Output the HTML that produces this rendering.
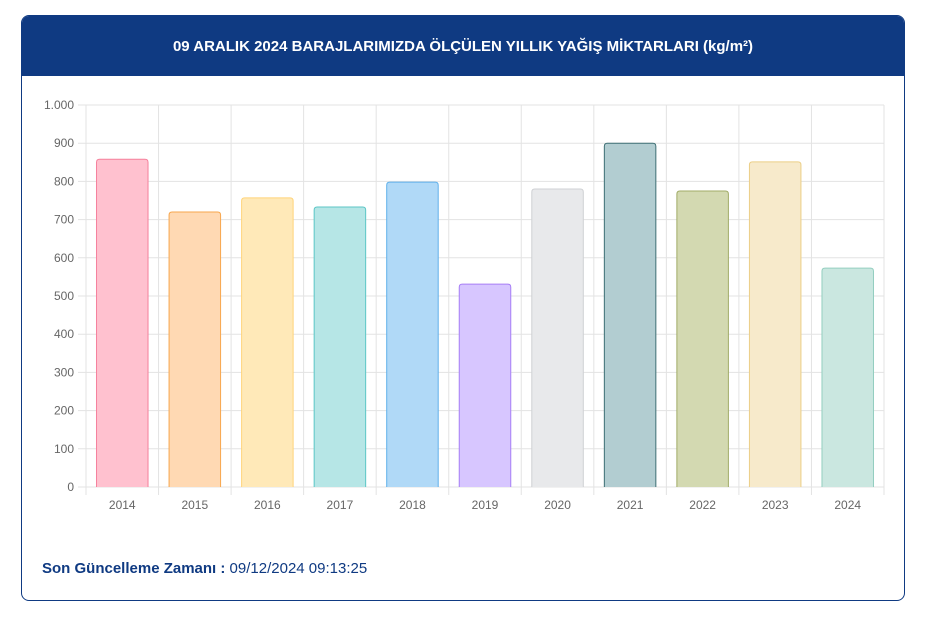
<!DOCTYPE html>
<html><head><meta charset="utf-8"><style>
body{margin:0;background:#fff;width:934px;height:621px;position:relative;font-family:"Liberation Sans",sans-serif;overflow:hidden}
.card{position:absolute;left:21px;top:15px;width:882px;height:584px;border:1px solid #0f3a82;border-radius:8px;overflow:hidden;background:#fff}
.hdr{height:60px;background:#0f3a82;color:#fff;font-weight:bold;font-size:15px;text-align:center;line-height:62px}
.foot{position:absolute;left:20px;top:544px;font-size:15px;color:#0f3a82}
svg{position:absolute;left:0;top:0}
</style></head><body>
<div class="card">
<div class="hdr">09 ARALIK 2024 BARAJLARIMIZDA ÖLÇÜLEN YILLIK YAĞIŞ MİKTARLARI (kg/m²)</div>
<div class="foot"><b>Son Güncelleme Zamanı :</b> 09/12/2024 09:13:25</div>
</div>
<svg id="c" width="934" height="621"></svg>
<script>
const categories=["2014","2015","2016","2017","2018","2019","2020","2021","2022","2023","2024"];
const values=[858,720,757,733,798,531,780,900,775,851,573];
const yTicks=[0,100,200,300,400,500,600,700,800,900,1000];
const yTickLabels=["0","100","200","300","400","500","600","700","800","900","1.000"];
const fills=["#ffc1cf","#ffd9b3","#ffe9b8","#b6e6e6","#b0d9f7","#d7c6ff","#e8e9eb","#b2cdd1","#d3d9b1","#f7eacb","#cae7e0"];
const strokes=["#f5809c","#f7a64d","#ffd47a","#5cc6c6","#5fb0ea","#a77ef5","#cfd1d4","#3e6f74","#a0ab66","#eccf87","#93cebf"];
const X0=86,X1=884,Y0=487,Y1=105;
const y=v=>Y0-(v/1000)*(Y0-Y1);
const bw=(X1-X0)/categories.length;
const x=i=>X0+i*bw;
const svg=document.getElementById('c');
const NS="http://www.w3.org/2000/svg";
function mk(t,a){const e=document.createElementNS(NS,t);for(const k in a)e.setAttribute(k,a[k]);svg.appendChild(e);return e;}
yTicks.forEach((t,i)=>{
 const l=mk('line',{x1:X0-8,x2:X1,y1:y(t),y2:y(t),stroke:"#e3e3e3"});
 
 
 const tx=mk('text',{x:X0-12,y:y(t)+4,'text-anchor':'end','font-size':12,fill:'#666','font-family':'Liberation Sans, sans-serif'});
 tx.textContent=yTickLabels[i];
 
 
});
for(let i=0;i<=categories.length;i++){
 const l=mk('line',{x1:x(i),x2:x(i),y1:Y1,y2:Y0+8,stroke:"#e3e3e3"});
 
 
}
categories.forEach((c,i)=>{
 const w=bw*0.71, bx=x(i)+(bw-w)/2;
 const r=mk('path',{d:`M${bx},${Y0}V${y(values[i])+3}Q${bx},${y(values[i])} ${bx+3},${y(values[i])}H${bx+w-3}Q${bx+w},${y(values[i])} ${bx+w},${y(values[i])+3}V${Y0}`,fill:fills[i],stroke:strokes[i],'stroke-width':1});
 
 
 const tx=mk('text',{x:x(i)+bw/2,y:Y0+22,'text-anchor':'middle','font-size':12,fill:'#666','font-family':'Liberation Sans, sans-serif'});
 tx.textContent=c;
 
 
});
</script>
</body></html>
